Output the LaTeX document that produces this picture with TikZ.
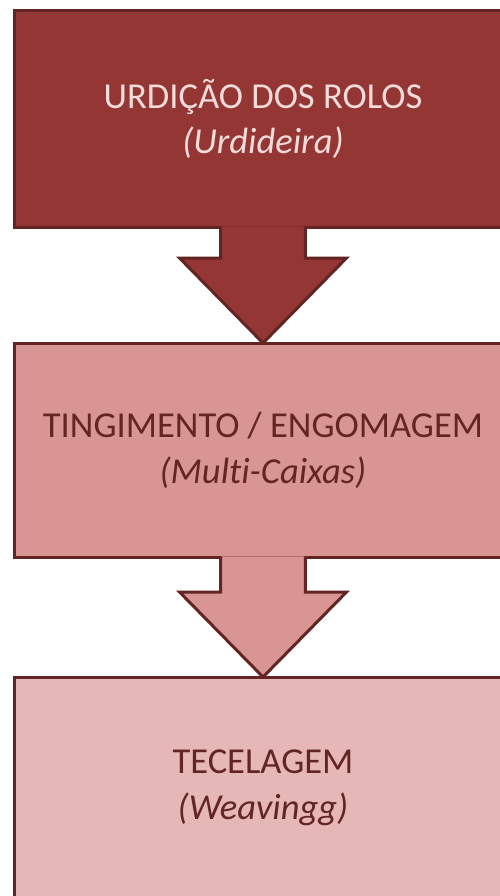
\documentclass[tikz,border=0pt]{standalone}
\usepackage{fontspec}
\setmainfont[Ligatures=NoCommon]{Carlito}
\usetikzlibrary{calc}

% Colours of the three stages
\definecolor{darkred}{HTML}{943634}
\definecolor{edgered}{HTML}{632523}
\definecolor{midrose}{HTML}{D99594}
\definecolor{lightrose}{HTML}{E5B8B7}
\definecolor{paletext}{HTML}{F2DCDB}

\tikzset{
    stage/.style={draw=edgered, line width=0.06cm, minimum width=9.96cm,
        outer sep=0pt, align=center, font=\fontsize{20.8}{26}\selectfont},
    flow/.style={draw=edgered, line width=0.06cm, line join=miter}
}

% Block arrow from the bottom of #1 to the top of #2, filled with #3
\newcommand{\flowarrow}[3]{%
    \filldraw[flow, fill=#3]
        ($(#1.south)+(-0.85cm,0.03cm)$) -- ($(#2.north)+(-0.85cm,1.7cm)$)
        -- ($(#2.north)+(-1.67cm,1.7cm)$) -- (#2.north)
        -- ($(#2.north)+(1.67cm,1.7cm)$) -- ($(#2.north)+(0.85cm,1.7cm)$)
        -- ($(#1.south)+(0.85cm,0.03cm)$);
}

\begin{document}
\begin{tikzpicture}[x=0.02cm, y=-0.02cm]
    % Page size
    \useasboundingbox (0,0) rectangle (500,896);
    \clip (0,0) rectangle (500,896);

    % Stages
    \node[stage, fill=darkred, text=paletext, minimum height=4.36cm] (urdicao) at (263,119)
        {URDIÇÃO DOS ROLOS\\\textit{(Urdideira)}};
    \node[stage, fill=midrose, text=edgered, minimum height=4.3cm] (tingimento) at (263,450.5)
        {TINGIMENTO / ENGOMAGEM\\\textit{(Multi-Caixas)}};
    \node[stage, fill=lightrose, text=edgered, minimum height=4.44cm] (tecelagem) at (263,788)
        {TECELAGEM\\\textit{(Weavingg)}};

    % Arrows between stages
    \flowarrow{urdicao}{tingimento}{darkred}
    \flowarrow{tingimento}{tecelagem}{midrose}

\end{tikzpicture}
\end{document}
